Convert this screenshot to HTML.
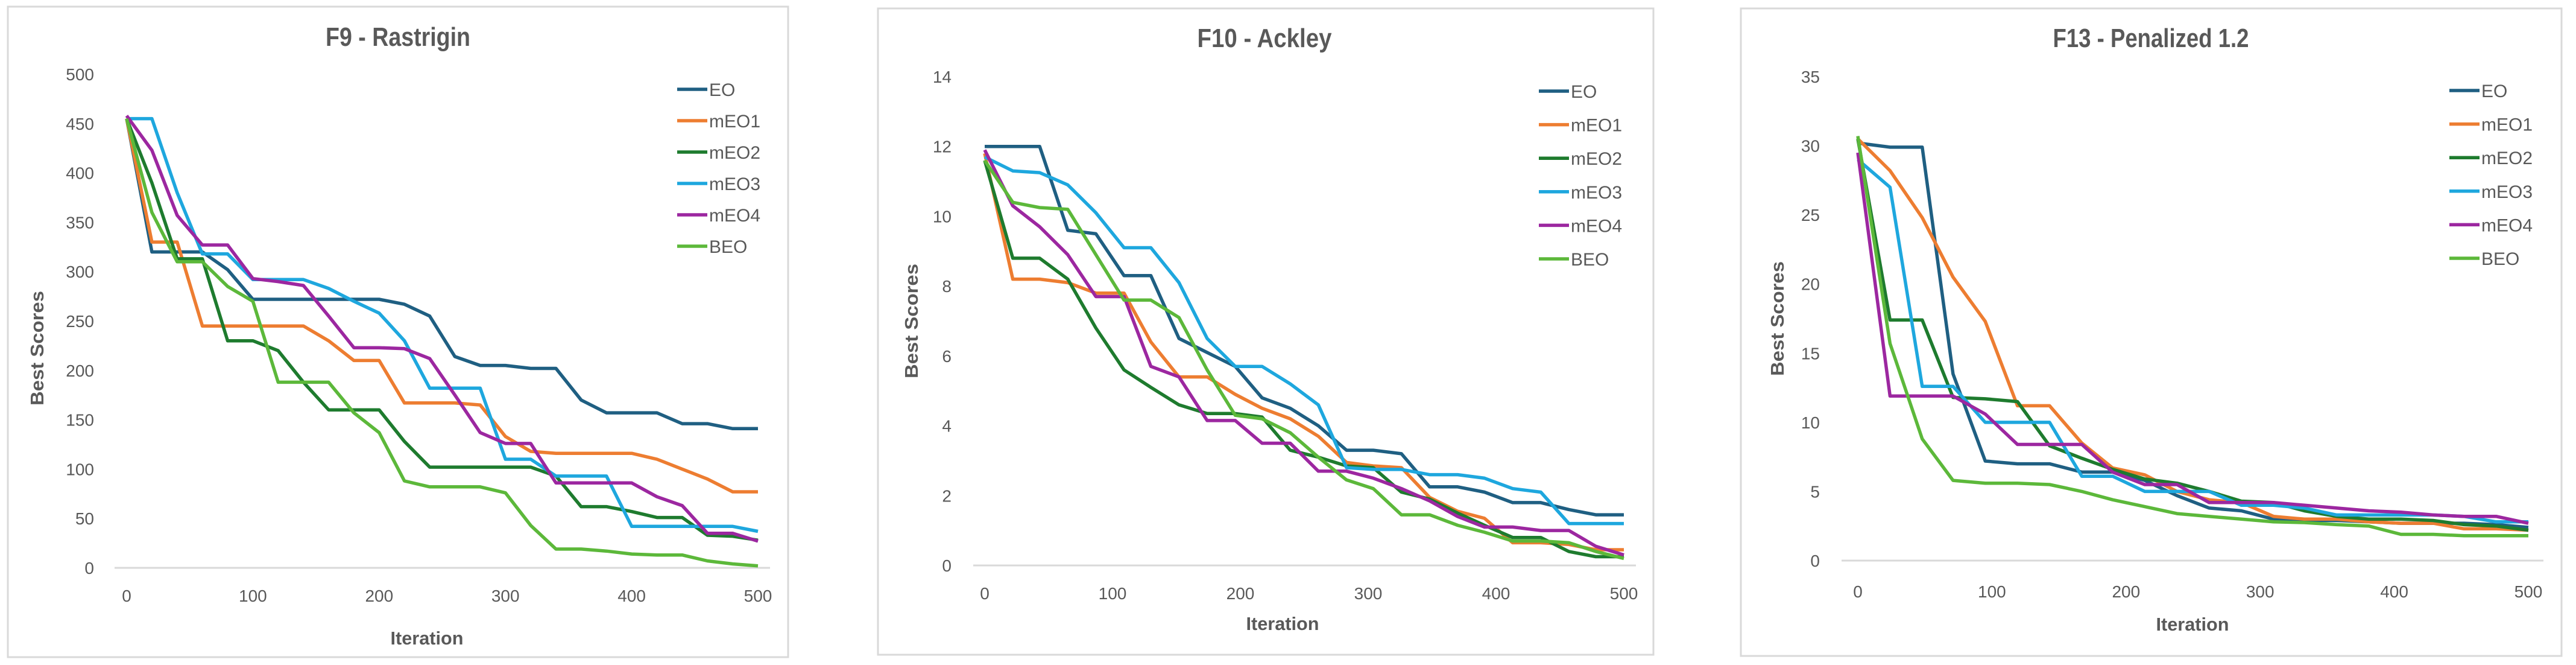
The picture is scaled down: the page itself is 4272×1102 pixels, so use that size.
<!DOCTYPE html>
<html><head><meta charset="utf-8"><style>
html,body{margin:0;padding:0;background:#fff;}
svg{display:block;font-family:"Liberation Sans Narrow","Liberation Sans",sans-serif;}
.t{font-size:44px;font-weight:bold;fill:#595959;text-anchor:middle;}
.tk{font-size:28px;fill:#595959;}
.ax{font-size:31px;font-weight:bold;fill:#595959;text-anchor:middle;}
.lg{font-size:30px;fill:#595959;}
</style></head><body>
<svg id="svg" width="4272" height="1102" viewBox="0 0 4272 1102" xmlns="http://www.w3.org/2000/svg">
<rect width="4272" height="1102" fill="#fff"/>
<g id="c1">
 <rect x="13" y="11" width="1294" height="1078" fill="#fff" stroke="#d9d9d9" stroke-width="3"/>
 <text class="t" x="660" y="76" textLength="240" lengthAdjust="spacingAndGlyphs">F9 - Rastrigin</text>
 <text class="ax" transform="translate(72,577) rotate(-90)" textLength="190" lengthAdjust="spacingAndGlyphs">Best Scores</text>
 <text class="ax" x="708" y="1068" textLength="121" lengthAdjust="spacingAndGlyphs">Iteration</text>
</g>
<g id="c2">
 <rect x="1456" y="14" width="1286" height="1071" fill="#fff" stroke="#d9d9d9" stroke-width="3"/>
 <text class="t" x="2097" y="78" textLength="223" lengthAdjust="spacingAndGlyphs">F10 - Ackley</text>
 <text class="ax" transform="translate(1522,532) rotate(-90)" textLength="190" lengthAdjust="spacingAndGlyphs">Best Scores</text>
 <text class="ax" x="2127" y="1044" textLength="121" lengthAdjust="spacingAndGlyphs">Iteration</text>
</g>
<g id="c3">
 <rect x="2887" y="14" width="1361" height="1073" fill="#fff" stroke="#d9d9d9" stroke-width="3"/>
 <text class="t" x="3567" y="78" textLength="325" lengthAdjust="spacingAndGlyphs">F13 - Penalized 1.2</text>
 <text class="ax" transform="translate(2958,528) rotate(-90)" textLength="190" lengthAdjust="spacingAndGlyphs">Best Scores</text>
 <text class="ax" x="3636" y="1045" textLength="121" lengthAdjust="spacingAndGlyphs">Iteration</text>
</g>
</svg>
<script>
const seriesNames = ["EO","mEO1","mEO2","mEO3","mEO4","BEO"];
const seriesColors = ["#1f5f82","#ed7d31","#1e7b2e","#1ea7de","#9c27a0","#5cb83a"];
const xTicks = [0,100,200,300,400,500];

const f9Iter = [0,20,40,60,80,100,120,140,160,180,200,220,240,260,280,300,320,340,360,380,400,420,440,460,480,500];
const f9EO   = [455,320,320,320,302,272,272,272,272,272,272,267,255,214,205,205,202,202,170,157,157,157,146,146,141,141];
const f9mEO1 = [455,330,330,245,245,245,245,245,230,210,210,167,167,167,165,133,118,116,116,116,116,110,100,90,77,77];
const f9mEO2 = [455,390,313,313,230,230,220,188,160,160,160,128,102,102,102,102,102,93,62,62,57,51,51,33,32,28];
const f9mEO3 = [455,455,380,318,318,292,292,292,283,270,258,230,182,182,182,110,110,93,93,93,42,42,42,42,42,37];
const f9mEO4 = [458,423,357,327,327,293,290,286,255,223,223,222,212,175,137,126,126,86,86,86,86,72,63,35,35,27];
const f9BEO  = [455,360,310,310,285,270,188,188,188,157,137,88,82,82,82,76,43,19,19,17,14,13,13,7,4,2];
const f9YTicks = [0,50,100,150,200,250,300,350,400,450,500];

const f10Iter = [0,22,43,65,87,109,130,152,174,196,217,239,261,283,304,326,348,370,391,413,435,457,478,500];
const f10EO   = [12,12,12,9.6,9.5,8.3,8.3,6.5,6.1,5.7,4.8,4.5,4.0,3.3,3.3,3.2,2.25,2.25,2.1,1.8,1.8,1.6,1.45,1.45];
const f10mEO1 = [11.8,8.2,8.2,8.1,7.8,7.8,6.4,5.4,5.4,4.9,4.5,4.2,3.7,2.95,2.85,2.8,1.95,1.55,1.35,0.65,0.65,0.6,0.45,0.45];
const f10mEO2 = [11.6,8.8,8.8,8.2,6.8,5.6,5.1,4.6,4.35,4.35,4.25,3.3,3.1,2.85,2.8,2.1,1.9,1.5,1.15,0.8,0.8,0.4,0.25,0.25];
const f10mEO3 = [11.7,11.3,11.25,10.9,10.1,9.1,9.1,8.1,6.5,5.7,5.7,5.2,4.6,2.8,2.75,2.75,2.6,2.6,2.5,2.2,2.1,1.2,1.2,1.2];
const f10mEO4 = [11.9,10.3,9.7,8.9,7.7,7.7,5.7,5.4,4.15,4.15,3.5,3.5,2.7,2.7,2.5,2.2,1.85,1.4,1.1,1.1,1.0,1.0,0.55,0.3];
const f10BEO  = [11.6,10.4,10.25,10.2,8.9,7.6,7.6,7.1,5.6,4.3,4.2,3.8,3.1,2.45,2.2,1.45,1.45,1.15,0.95,0.7,0.7,0.65,0.4,0.2];
const f10YTicks = [0,2,4,6,8,10,12,14];

const f13Iter = [0,24,48,71,95,119,143,167,190,214,238,262,286,310,333,357,381,405,429,452,476,500];
const f13EO   = [30.2,29.9,29.9,13.5,7.2,7.0,7.0,6.4,6.4,5.8,4.7,3.8,3.6,3.0,2.9,2.9,2.8,2.7,2.7,2.7,2.6,2.4];
const f13mEO1 = [30.5,28.2,24.8,20.5,17.3,11.2,11.2,8.5,6.7,6.2,5.0,4.4,4.2,3.2,3.0,3.0,2.8,2.7,2.7,2.3,2.3,2.2];
const f13mEO2 = [30.5,17.4,17.4,11.8,11.7,11.5,8.3,7.4,6.6,5.9,5.6,5.0,4.3,4.2,3.6,3.2,3.0,3.0,2.9,2.6,2.5,2.2];
const f13mEO3 = [29.0,27.0,12.6,12.6,10.0,10.0,10.0,6.1,6.1,5.0,5.0,5.0,4.0,4.0,3.8,3.3,3.3,3.3,3.3,3.2,2.8,2.8];
const f13mEO4 = [29.5,11.9,11.9,11.9,10.6,8.4,8.4,8.4,6.4,5.5,5.5,4.2,4.2,4.2,4.0,3.8,3.6,3.5,3.3,3.2,3.2,2.7];
const f13BEO  = [30.7,15.7,8.8,5.8,5.6,5.6,5.5,5.0,4.4,3.9,3.4,3.2,3.0,2.8,2.75,2.6,2.5,1.9,1.9,1.8,1.8,1.8];
const f13YTicks = [0,5,10,15,20,25,30,35];

const NS = "http://www.w3.org/2000/svg";
function mk(tag, attrs, parent){
  const e = document.createElementNS(NS, tag);
  for (const k in attrs) e.setAttribute(k, attrs[k]);
  parent.appendChild(e);
  return e;
}
function drawChart(gid, cfg){
  const g = document.getElementById(gid);
  const xS = v => cfg.x0 + (v/500)*(cfg.x1-cfg.x0);
  const yS = v => cfg.y0 - (v/cfg.yMax)*(cfg.y0-cfg.y1);
  const grid = mk("line",{x1:cfg.gx0,x2:cfg.gx1,y1:cfg.y0,y2:cfg.y0,stroke:"#d9d9d9","stroke-width":3},g);
  
  
  cfg.yTicks.forEach(v=>{
    const t = mk("text",{x:cfg.ylx,y:yS(v)+10,"text-anchor":"end",class:"tk"},g);
    t.textContent = v;
    
    
  });
  xTicks.forEach(v=>{
    const t = mk("text",{x:xS(v),y:cfg.xly,"text-anchor":"middle",class:"tk"},g);
    t.textContent = v;
    
    
  });
  cfg.series.forEach((vals,i)=>{
    const pts = vals.map((v,j)=>xS(cfg.iter[j]).toFixed(1)+","+yS(v).toFixed(1)).join(" ");
    const p = mk("polyline",{points:pts,fill:"none",stroke:seriesColors[i],"stroke-width":5.5,"stroke-linejoin":"round"},g);
    
    
    const ly = cfg.ly + i*cfg.ls;
    const ll = mk("line",{x1:cfg.lx,x2:cfg.lx+50,y1:ly,y2:ly,stroke:seriesColors[i],"stroke-width":5.5},g);
    
    
    const lt = mk("text",{x:cfg.lx+53,y:ly+11,class:"lg"},g);
    lt.textContent = seriesNames[i];
    
    
  });
}
drawChart("c1",{x0:210,x1:1257,y0:941,y1:123,yMax:500,gx0:190,gx1:1277,ylx:156,xly:997,
  iter:f9Iter,yTicks:f9YTicks,series:[f9EO,f9mEO1,f9mEO2,f9mEO3,f9mEO4,f9BEO],lx:1123,ly:148,ls:52});
drawChart("c2",{x0:1633,x1:2693,y0:937,y1:127,yMax:14,gx0:1614,gx1:2713,ylx:1578,xly:993,
  iter:f10Iter,yTicks:f10YTicks,series:[f10EO,f10mEO1,f10mEO2,f10mEO3,f10mEO4,f10BEO],lx:2552,ly:151,ls:55.6});
drawChart("c3",{x0:3081,x1:4193,y0:929,y1:127,yMax:35,gx0:3054,gx1:4218,ylx:3018,xly:990,
  iter:f13Iter,yTicks:f13YTicks,series:[f13EO,f13mEO1,f13mEO2,f13mEO3,f13mEO4,f13BEO],lx:4062,ly:150,ls:55.6});
</script>
</body></html>
